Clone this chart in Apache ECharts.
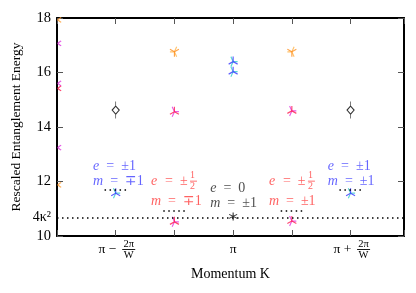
<!DOCTYPE html>
<html><head><meta charset="utf-8">
<script src="https://cdn.jsdelivr.net/npm/echarts@6/dist/echarts.min.js"></script>
<style>html,body{margin:0;padding:0;background:#fff}#c{width:416px;height:293px}</style>
</head><body><div id="c"></div><script>
// ---- axis ranges and tick labels ----
const xMin = -3, xMax = 2.91, yMin = 10, yMax = 18;
const xLabelValues = [-2, 0, 2];
const xLabelPrefixes = ['π − ', 'π', 'π + '];
const xLabelFractions = [['2π', 'W'], null, ['2π', 'W']];
const refLevel = 10.67;            // 4κ² level
const refLabel = '4κ²';
const xAxisTitle = 'Momentum K';
const yAxisTitle = 'Rescaled Entanglement Energy';

// ---- data (momentum index, energy) ----
const orangePts = [[-1, 16.76], [1, 16.76]];
const redPts = [[-1, 14.56], [1, 14.59], [-1, 10.52], [1, 10.55]];
const bluePts = [[-2, 11.57], [2, 11.57], [0, 16.40], [0, 16.03]];
const blackDiamondPts = [[-2, 14.62], [2, 14.62]];
const blackStarPts = [[0, 10.72]];
const edgeOrangePts = [[-2.99, 17.93], [-2.99, 11.88]];
const edgePinkPts = [[-2.99, 17.07], [-2.99, 15.6], [-2.99, 13.24]];
const edgeRedPts = [[-2.99, 15.42]];
const expectedLevels = [[-2, 11.69], [-1, 10.92], [1, 10.92], [2, 11.69]];
const expectedHalfWidth = 0.19;

// ---- annotations ----
const annotations = [
  {pos: [-2.384, 12.82], color: '#3d3dff', e: '±1', m: '∓1'},
  {pos: [1.614, 12.82], color: '#3d3dff', e: '±1', m: '±1'},
  {pos: [-0.39, 12.03], color: '#222222', e: '0', m: '±1'},
  {pos: [-1.398, 12.36], color: '#ff3a3a', eSign: '±', eFrac: ['1', '2'], m: '∓1'},
  {pos: [0.61, 12.36], color: '#ff3a3a', eSign: '±', eFrac: ['1', '2'], m: '±1'}
];

const FONT = "'Liberation Serif','DejaVu Serif',serif";
const SP = '\u2002';
const AF = 14; // annotation font size

const TRI_DOWN = 'path://M0 0L0 1M0 0L-0.866 -0.5M0 0L0.866 -0.5M0 -1L0 -1';
const TRI_UP = 'path://M0 0L0 -1M0 0L-0.866 0.5M0 0L0.866 0.5M0 1L0 1';
const TRI_LEFT = 'path://M0 0L-1 0M0 0L0.5 -0.866M0 0L0.5 0.866M1 0L1 0';
const TRI_RIGHT = 'path://M0 0L1 0M0 0L-0.5 -0.866M0 0L-0.5 0.866M-1 0L-1 0';
const HALF_TRI = 'path://M-1 0L-1 0M0 0L1 -0.8M0 0L1 0.8';
const DIAMOND_BAR = 'path://M0 -8.5L0 -4M0 4L0 8.5M0 -4L3 0L0 4L-3 0Z';
const STAR = 'path://M0 -1L0 1M-0.866 -0.5L0.866 0.5M-0.866 0.5L0.866 -0.5';

function tri(data, symbol, color, size, z) {
  return {type: 'scatter', data, symbol, symbolSize: size || [9, 10], silent: true, z: z || 3,
    itemStyle: {color, borderColor: color, borderWidth: 1.2}};
}

function xLabelFmt(v) {
  const i = xLabelValues.findIndex(t => Math.abs(t - v) < 1e-6);
  if (i < 0) return '';
  const f = xLabelFractions[i];
  if (!f) return '{h| }\n{p|' + xLabelPrefixes[i] + '}\n{h| }';
  return '{h| }{n|' + f[0] + '}\n{p|' + xLabelPrefixes[i] + '}{bar| }\n{h| }{d|' + f[1] + '}';
}

function annLabel(a) {
  const c = a.color;
  const rich = {
    i: {fontFamily: FONT, fontStyle: 'italic', fontSize: AF, color: c, lineHeight: 15},
    t: {fontFamily: FONT, fontSize: AF, color: c, lineHeight: 15}
  };
  let text;
  if (!a.eFrac) {
    text = '{i|e}{t|' + SP + '=' + SP + a.e + '}\n{i|m}{t|' + SP + '=' + SP + a.m + '}';
  } else {
    Object.assign(rich, {
      w: {width: 39, fontSize: 8, lineHeight: 8},
      n: {fontFamily: FONT, fontSize: 10, color: c, lineHeight: 8, width: 7},
      ei: {fontFamily: FONT, fontStyle: 'italic', fontSize: AF, color: c, lineHeight: 3, width: 7},
      ep: {fontFamily: FONT, fontSize: AF, color: c, lineHeight: 3, width: 32},
      bar: {width: 7, height: 0.9, backgroundColor: c, lineHeight: 3, fontSize: 3},
      d: {fontFamily: FONT, fontSize: 10, color: c, lineHeight: 8, width: 7},
      mi: {fontFamily: FONT, fontStyle: 'italic', fontSize: AF, color: c, lineHeight: 21},
      mp: {fontFamily: FONT, fontSize: AF, color: c, lineHeight: 21}
    });
    text = '{w| }{n|' + a.eFrac[0] + '}\n{ei|e}{ep|' + SP + '=' + SP + a.eSign + '}{bar| }\n{w| }{d|' + a.eFrac[1] + '}\n{mi|m}{mp|' + SP + '=' + SP + a.m + '}';
  }
  return {show: true, position: [0, 0], align: 'left', verticalAlign: 'top', formatter: text, rich};
}

const chart = echarts.init(document.getElementById('c'), null, {renderer: 'canvas'});
const axisLineStyle = {color: '#000', width: 2};
const tickStyle = {color: '#555', width: 1};

chart.setOption({
  animation: false,
  backgroundColor: '#fff',
  grid: {left: 57, right: 12, top: 18, bottom: 57, containLabel: false},
  xAxis: [{
    type: 'value', min: xMin, max: xMax, interval: 1, position: 'bottom',
    axisLine: {show: true, onZero: false, lineStyle: axisLineStyle},
    axisTick: {show: true, inside: true, length: 6, lineStyle: tickStyle},
    splitLine: {show: false},
    axisLabel: {
      margin: 4, color: '#000', fontFamily: FONT, fontSize: 13, formatter: xLabelFmt,
      showMinLabel: true, showMaxLabel: true,
      rich: {
        h: {width: 26, lineHeight: 8, fontSize: 8},
        n: {fontFamily: FONT, fontSize: 10.5, lineHeight: 8, width: 14, color: '#000'},
        p: {fontFamily: FONT, fontSize: 13.5, lineHeight: 3, width: 26, color: '#000'},
        bar: {width: 13, height: 0.9, backgroundColor: '#000', lineHeight: 3, fontSize: 3},
        d: {fontFamily: FONT, fontSize: 10.5, lineHeight: 9, width: 14, color: '#000'}
      }
    },
    name: xAxisTitle, nameLocation: 'middle', nameGap: 31,
    nameTextStyle: {fontFamily: FONT, fontSize: 14, color: '#000'}
  }, {
    type: 'value', min: xMin, max: xMax, interval: 1, position: 'top',
    axisLine: {show: true, onZero: false, lineStyle: axisLineStyle},
    axisTick: {show: true, inside: true, length: 6, lineStyle: tickStyle},
    axisLabel: {show: false}, splitLine: {show: false}
  }],
  yAxis: [{
    type: 'value', min: yMin, max: yMax, interval: 2, position: 'left',
    axisLine: {show: true, onZero: false, lineStyle: axisLineStyle},
    axisTick: {show: true, inside: true, length: 6, lineStyle: tickStyle},
    splitLine: {show: false},
    axisLabel: {margin: 6, color: '#000', fontFamily: FONT, fontSize: 14.5},
    name: yAxisTitle, nameLocation: 'middle', nameGap: 34,
    nameTextStyle: {fontFamily: FONT, fontSize: 13.5, color: '#000'}
  }, {
    type: 'value', min: yMin, max: yMax, interval: 2, position: 'right',
    axisLine: {show: true, onZero: false, lineStyle: axisLineStyle},
    axisTick: {show: true, inside: true, length: 6, lineStyle: tickStyle},
    axisLabel: {show: false}, splitLine: {show: false}
  }],
  series: [
    {
      type: 'line', data: [], silent: true, z: 1,
      markLine: {
        silent: true, symbol: 'none', animation: false,
        lineStyle: {color: '#000', width: 1.5, type: [1.5, 3.5]},
        label: {show: true, position: 'start', distance: 6, formatter: refLabel,
          color: '#000', fontFamily: FONT, fontSize: 14},
        data: [{yAxis: refLevel}]
      }
    },
    {
      type: 'line', data: [], silent: true, z: 1,
      markLine: {
        silent: true, symbol: 'none', animation: false,
        lineStyle: {color: '#000', width: 1.5, type: [1.5, 3.5]},
        label: {show: false},
        data: expectedLevels.map(([x, y]) => [{coord: [x - expectedHalfWidth, y]}, {coord: [x + expectedHalfWidth, y]}])
      }
    },
    tri(orangePts, TRI_LEFT, '#ffb347'),
    tri(orangePts, TRI_DOWN, '#ff8c1a'),
    tri(redPts, TRI_RIGHT, '#e033e0'),
    tri(redPts, TRI_UP, '#ff1a4d'),
    tri(bluePts, TRI_RIGHT, '#33cccc'),
    tri(bluePts, TRI_UP, '#3333ff'),
    tri(edgeOrangePts, HALF_TRI, '#ff9a2a', [7, 5]),
    tri(edgePinkPts, HALF_TRI, '#e033e0', [7, 5]),
    tri(edgeRedPts, HALF_TRI, '#ff1a4d', [7, 5]),
    {type: 'scatter', data: blackDiamondPts, symbol: DIAMOND_BAR, symbolSize: [7, 17], silent: true, z: 3,
      itemStyle: {color: '#fff', borderColor: '#000', borderWidth: 1}},
    {type: 'scatter', data: blackStarPts, symbol: STAR, symbolSize: [8, 8], silent: true, z: 3,
      itemStyle: {color: '#000', borderColor: '#000', borderWidth: 1.1}},
    {
      type: 'scatter', silent: true, z: 5, symbolSize: 0.1,
      itemStyle: {color: 'transparent'},
      data: annotations.map(a => ({value: a.pos, label: annLabel(a)}))
    }
  ]
});
</script></body></html>
